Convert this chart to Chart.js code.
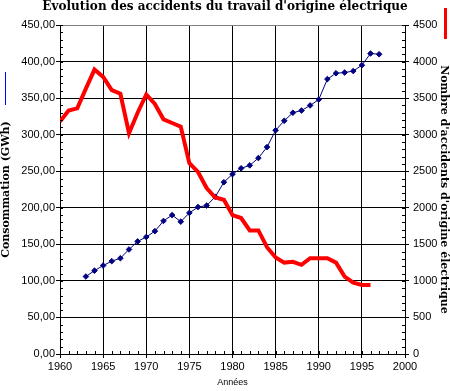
<!DOCTYPE html>
<html>
<head>
<meta charset="utf-8">
<script src="https://cdn.jsdelivr.net/npm/chart.js@4/dist/chart.umd.min.js"></script>
<style>
    html, body { margin: 0; padding: 0; background: #fff; }
    #wrap { width: 450px; height: 391px; }
</style>
</head>
<body>
<div id="wrap"><canvas id="chart" width="450" height="391"></canvas></div>
<script>
// Consommation électrique (GWh), axe de gauche
var consoYears = [1963, 1964, 1965, 1966, 1967, 1968, 1969, 1970, 1971, 1972, 1973, 1974,
    1975, 1976, 1977, 1978, 1979, 1980, 1981, 1982, 1983, 1984, 1985, 1986, 1987, 1988,
    1989, 1990, 1991, 1992, 1993, 1994, 1995, 1996, 1997];
var consoValues = [106, 114, 121, 127, 131, 143, 154, 160, 168, 182, 190, 181,
    193, 201, 203, 215, 235, 246, 254, 258, 268, 283, 306, 319, 330, 333,
    340, 348, 376, 384, 385, 387, 395, 411, 410];

// Nombre d'accidents d'origine électrique, axe de droite
var accYears = [1960, 1961, 1962, 1963, 1964, 1965, 1966, 1967, 1968, 1969, 1970, 1971,
    1972, 1973, 1974, 1975, 1976, 1977, 1978, 1979, 1980, 1981, 1982, 1983, 1984, 1985,
    1986, 1987, 1988, 1989, 1990, 1991, 1992, 1993, 1994, 1995, 1996];
var accValues = [3180, 3330, 3360, 3630, 3890, 3790, 3610, 3560, 3020, 3300, 3550, 3420,
    3210, 3160, 3110, 2610, 2490, 2270, 2140, 2110, 1900, 1860, 1690, 1690, 1460, 1320,
    1250, 1260, 1220, 1310, 1310, 1310, 1250, 1060, 975, 945, 945];

var yearRange = [1960, 2000];
var consoRange = [0, 450];
var accRange = [0, 4500];

var titleText = "Evolution des accidents du travail d'origine électrique";
var leftTitle = 'Consommation (GWh)';
var rightTitle = "Nombre d'accidents d'origine électrique";
var xTitle = 'Années';

function toPoints(xs, ys) {
    return xs.map(function (x, i) { return { x: x, y: ys[i] }; });
}

var tickFont = { family: 'Liberation Sans', size: 11 };
var serifBold = { family: 'DejaVu Serif', size: 11, weight: 'bold', lineHeight: 1.1 };

// petites graduations + traits de légende
var extras = {
    id: 'extras',
    afterDraw: function (chart) {
        var ctx = chart.ctx;
        var x = chart.scales.x, y = chart.scales.y, y1 = chart.scales.y1;
        var area = chart.chartArea;
        ctx.save();
        ctx.strokeStyle = '#000';
        ctx.lineWidth = 1;
        ctx.beginPath();
        var v, p;
        for (v = consoRange[0]; v <= consoRange[1]; v += 10) {
            p = Math.round(y.getPixelForValue(v)) + 0.5;
            ctx.moveTo(area.left, p);
            ctx.lineTo(area.left + 3, p);
        }
        for (v = accRange[0]; v <= accRange[1]; v += 100) {
            p = Math.round(y1.getPixelForValue(v)) + 0.5;
            ctx.moveTo(area.right - 3, p);
            ctx.lineTo(area.right, p);
        }
        for (v = yearRange[0]; v <= yearRange[1]; v += 1) {
            p = Math.round(x.getPixelForValue(v)) + 0.5;
            ctx.moveTo(p, area.bottom);
            ctx.lineTo(p, area.bottom - 3);
        }
        ctx.stroke();

        // légende: trait bleu à gauche, trait rouge à droite
        ctx.strokeStyle = '#0000ff';
        ctx.lineWidth = 1;
        ctx.beginPath();
        ctx.moveTo(5.5, 72);
        ctx.lineTo(5.5, 105);
        ctx.stroke();
        ctx.strokeStyle = '#ff0000';
        ctx.lineWidth = 3;
        ctx.beginPath();
        ctx.moveTo(445.5, 8);
        ctx.lineTo(445.5, 39);
        ctx.stroke();
        ctx.restore();
    }
};

var chart = new Chart(document.getElementById('chart'), {
    type: 'line',
    data: {
        datasets: [{
            label: rightTitle,
            data: toPoints(accYears, accValues),
            yAxisID: 'y1',
            borderColor: '#ff0000',
            borderWidth: 4,
            pointRadius: 0,
            tension: 0,
            fill: false
        }, {
            label: leftTitle,
            data: toPoints(consoYears, consoValues),
            yAxisID: 'y',
            borderColor: '#000080',
            backgroundColor: '#000080',
            borderWidth: 1,
            pointStyle: 'rectRot',
            pointRadius: 2.8,
            pointBorderWidth: 1,
            tension: 0,
            fill: false
        }]
    },
    options: {
        responsive: false,
        animation: false,
        devicePixelRatio: 1,
        layout: { padding: 0 },
        plugins: {
            legend: { display: false },
            tooltip: { enabled: false },
            title: {
                display: true,
                text: titleText,
                color: '#000',
                font: { family: 'DejaVu Serif', size: 12, weight: 'bold', lineHeight: 1 },
                padding: { top: 1, bottom: 12 }
            }
        },
        scales: {
            x: {
                type: 'linear',
                min: yearRange[0],
                max: yearRange[1],
                afterFit: function (s) { s.height = 37; },
                ticks: { stepSize: 5, color: '#000', font: tickFont, padding: 2, maxRotation: 0,
                    callback: function (v) { return String(v); } },
                grid: { color: '#000', tickColor: '#000', tickLength: 4 },
                border: { color: '#000' },
                title: { display: true, text: xTitle, color: '#000',
                    font: { family: 'Liberation Sans', size: 9 }, padding: { top: 0, bottom: 3 } }
            },
            y: {
                position: 'left',
                min: consoRange[0],
                max: consoRange[1],
                afterFit: function (s) { s.width = 60; },
                ticks: { stepSize: 50, color: '#000', font: tickFont, padding: 1,
                    callback: function (v) { return v.toFixed(2).replace('.', ','); } },
                grid: {
                    color: function (c) { return c.tick && c.tick.value === consoRange[1] ? '#808080' : '#000'; },
                    tickColor: '#000',
                    tickLength: 4
                },
                border: { color: '#000' },
                title: { display: true, text: leftTitle, color: '#000', font: serifBold, padding: 0 }
            },
            y1: {
                position: 'right',
                min: accRange[0],
                max: accRange[1],
                afterFit: function (s) { s.width = 45; },
                ticks: { stepSize: 500, color: '#000', font: tickFont, padding: 4,
                    callback: function (v) { return String(v); } },
                grid: { drawOnChartArea: false, tickColor: '#000', tickLength: 4 },
                border: { color: '#000' },
                title: { display: true, text: rightTitle, color: '#000', font: serifBold, padding: 0 }
            }
        }
    },
    plugins: [extras]
});
</script>
</body>
</html>
